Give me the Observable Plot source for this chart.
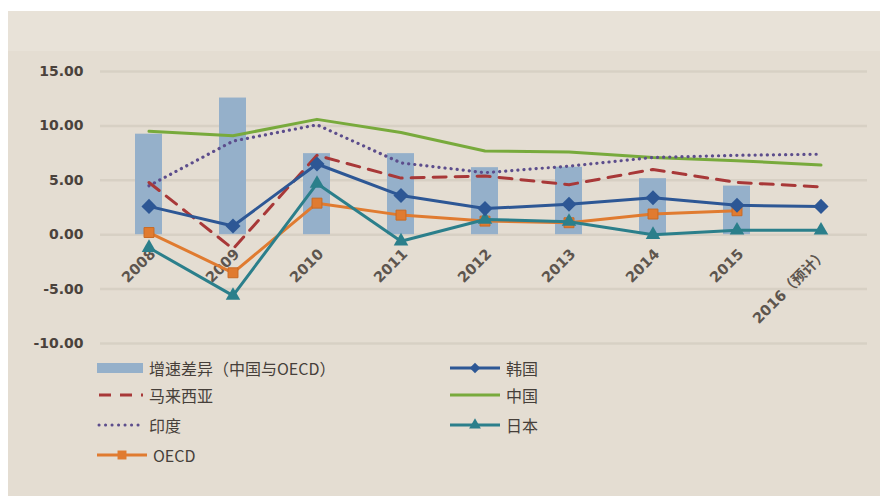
<!DOCTYPE html>
<html>
<head>
<meta charset="utf-8">
<script src="https://cdn.jsdelivr.net/npm/d3@7"></script>
<script src="https://cdn.jsdelivr.net/npm/@observablehq/plot@0.6"></script>
<style>
  body { margin: 0; background: #ffffff; }
  #frame { position: absolute; left: 8px; top: 11px; width: 872px; height: 485px; background: #e4ddd2; overflow: hidden;
           font-family: "DejaVu Sans", "Noto Sans CJK SC", sans-serif; }
  #band { position: absolute; left: 0; top: 0; width: 100%; height: 40px; background: #e8e2d8; }
  #chart { position: absolute; left: 0; top: 0; }
  .item { position: absolute; display: flex; align-items: center; font-size: 16px; color: #463f3a;
          font-family: "Noto Sans CJK SC", "Noto Sans", sans-serif; white-space: nowrap; }
  .item svg { display: block; margin-right: 6px; }
</style>
</head>
<body>
<div id="frame"><div id="band"></div><div id="chart"></div></div>
<script>
// Categories and tick values
const years = ["2008", "2009", "2010", "2011", "2012", "2013", "2014", "2015", "2016（预计）"];
const yTicks = [-10, -5, 0, 5, 10, 15];

// GDP growth (%) by economy
const gapChinaOECD = [9.24, 12.56, 7.45, 7.45, 6.16, 6.2, 5.15, 4.47, null];
const korea    = [2.6, 0.8, 6.5, 3.6, 2.4, 2.8, 3.4, 2.7, 2.6];
const malaysia = [4.8, -1.3, 7.3, 5.2, 5.4, 4.6, 6.0, 4.8, 4.4];
const china    = [9.5, 9.1, 10.6, 9.4, 7.7, 7.6, 7.1, 6.8, 6.4];
const india    = [4.5, 8.6, 10.1, 6.6, 5.7, 6.3, 7.1, 7.3, 7.4];
const japan    = [-1.2, -5.6, 4.7, -0.6, 1.4, 1.2, 0.0, 0.4, 0.4];
const oecd     = [0.2, -3.5, 2.9, 1.8, 1.25, 1.1, 1.9, 2.2, null];

const series = vals => years.map((year, i) => ({year, value: vals[i]})).filter(d => d.value != null);

const C = {
  bar: "#95b0ca", korea: "#2d5795", malaysia: "#a83838", china: "#78aa3c",
  india: "#5c4d8c", japan: "#2b7f8b", oecd: "#e07b30"
};

const lineOpts = (color, extra = {}) => ({x: "year", y: "value", stroke: color, strokeWidth: 3, ...extra});

const chart = Plot.plot({
  width: 872,
  height: 345,
  marginLeft: 95,
  marginRight: 15,
  marginTop: 60,
  marginBottom: 13,
  style: {background: "transparent", fontFamily: "'DejaVu Sans', 'Noto Sans CJK SC', sans-serif"},
  x: {domain: years, paddingInner: 0.68, paddingOuter: 0.34, axis: null},
  y: {domain: [-10, 15], label: null, axis: null},
  marks: [
    Plot.ruleY(yTicks, {stroke: "#d7d0c4", strokeWidth: 2.5, insetLeft: -3, insetRight: -2}),
    Plot.axisY(yTicks, {tickSize: 0, tickPadding: 20, tickFormat: d => d.toFixed(2), fontSize: 14,
                        fontWeight: "bold", fill: "#4a423c", label: null}),
    Plot.barY(series(gapChinaOECD), {x: "year", y: "value", fill: C.bar}),
    Plot.text(years, {x: d => d, y: () => 0, text: d => d, rotate: -45, textAnchor: "end",
                      dx: 4, dy: 17, fontSize: 14.5, fontWeight: "bold", fill: "#5d554e"}),
    Plot.line(series(china), lineOpts(C.china)),
    Plot.line(series(india), lineOpts(C.india, {strokeDasharray: "0.1 6", strokeLinecap: "round", strokeWidth: 3.2})),
    Plot.line(series(malaysia), lineOpts(C.malaysia, {strokeDasharray: "13 9"})),
    Plot.line(series(oecd), lineOpts(C.oecd)),
    Plot.dot(series(oecd), {x: "year", y: "value", symbol: "square", r: 5.6, fill: C.oecd, stroke: "#c96a24", strokeWidth: 1}),
    Plot.line(series(japan), lineOpts(C.japan)),
    Plot.dot(series(japan), {x: "year", y: "value", symbol: "triangle", r: 5.4, fill: C.japan}),
    Plot.line(series(korea), lineOpts(C.korea)),
    Plot.dot(series(korea), {x: "year", y: "value", symbol: "diamond2", r: 6.8, fill: C.korea})
  ]
});
document.getElementById("chart").append(chart);

// Legend entries
const legendItems = [
  {label: "增速差异（中国与OECD）", kind: "bar",  color: C.bar,      x: 89,  y: 357},
  {label: "马来西亚",               kind: "dash", color: C.malaysia, x: 89,  y: 384},
  {label: "印度",                   kind: "dot",  color: C.india,    x: 89,  y: 414},
  {label: "OECD",                   kind: "line", color: C.oecd,     x: 89,  y: 444, marker: "square"},
  {label: "韩国",                   kind: "line", color: C.korea,    x: 442, y: 357, marker: "diamond"},
  {label: "中国",                   kind: "line", color: C.china,    x: 442, y: 384},
  {label: "日本",                   kind: "line", color: C.japan,    x: 442, y: 414, marker: "triangle"}
];

const frame = document.getElementById("frame");
for (const it of legendItems) {
  const div = document.createElement("div");
  div.className = "item";
  div.style.left = it.x + "px";
  div.style.top = (it.y - 11) + "px";
  div.style.height = "22px";
  const w = it.kind === "line" ? 50 : 46;
  const svg = d3.create("svg").attr("width", w).attr("height", 22);
  if (it.kind === "bar") {
    svg.append("rect").attr("x", 0).attr("y", 6).attr("width", w).attr("height", 10).attr("fill", it.color);
  } else {
    const ln = svg.append("line").attr("x1", it.kind === "dot" ? 2 : 0).attr("x2", w).attr("y1", 11).attr("y2", 11)
      .attr("stroke", it.color).attr("stroke-width", 3);
    if (it.kind === "dash") ln.attr("stroke-dasharray", "12 9").attr("x1", 2);
    if (it.kind === "dot") ln.attr("stroke-dasharray", "0.1 6.4").attr("stroke-linecap", "round");
    if (it.marker) {
      const sym = {square: d3.symbolSquare, diamond: d3.symbolDiamond2, triangle: d3.symbolTriangle}[it.marker];
      const size = {square: 80, diamond: 70, triangle: 60}[it.marker];
      svg.append("path").attr("transform", `translate(${w / 2},11)`).attr("d", d3.symbol(sym, size)()).attr("fill", it.color);
    }
  }
  div.append(svg.node());
  const span = document.createElement("span");
  span.textContent = it.label;
  div.append(span);
  frame.append(div);
}
</script>
</body>
</html>
